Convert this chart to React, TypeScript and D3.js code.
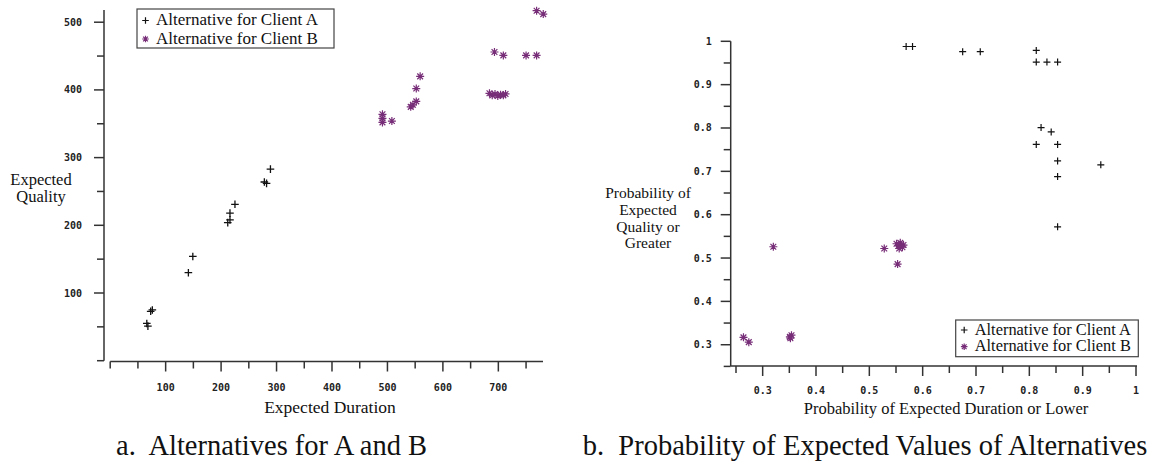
import React from 'react';
import * as d3 from 'd3';

// left chart: expected duration vs expected quality
const aDuration = [66, 68, 73, 76, 141, 149, 212, 216, 216, 225, 278, 282, 289];
const aQuality = [55, 51, 73, 75, 130, 154, 204, 208, 218, 231, 264, 262, 283];
const bDuration = [491, 491, 491, 508, 542, 546, 552, 552, 559, 684, 689, 694, 699, 704, 709, 713, 693, 709, 750, 769, 769, 781];
const bQuality = [364, 358, 352, 354, 375, 378, 383, 402, 420, 395, 392, 394, 391, 393, 392, 394, 456, 451, 451, 451, 517, 512];

// right chart: probability of expected duration vs quality
const aProbDur = [0.569, 0.581, 0.675, 0.708, 0.813, 0.813, 0.833, 0.853, 0.822, 0.841, 0.813, 0.853, 0.853, 0.853, 0.934, 0.853];
const aProbQual = [0.988, 0.988, 0.976, 0.976, 0.979, 0.952, 0.952, 0.952, 0.801, 0.791, 0.762, 0.762, 0.724, 0.688, 0.715, 0.572];
const bProbDur = [0.32, 0.264, 0.274, 0.351, 0.354, 0.352, 0.528, 0.551, 0.555, 0.558, 0.562, 0.556, 0.564, 0.553];
const bProbQual = [0.526, 0.317, 0.306, 0.318, 0.322, 0.315, 0.522, 0.533, 0.528, 0.535, 0.525, 0.522, 0.53, 0.486];

const leftXMajor = [100, 200, 300, 400, 500, 600, 700];
const leftXMinor = [0, 50, 150, 250, 350, 450, 550, 650, 750];
const leftYMajor = [100, 200, 300, 400, 500];
const leftYMinor = [0, 50, 150, 250, 350, 450];
const rightMajor = [0.3, 0.4, 0.5, 0.6, 0.7, 0.8, 0.9, 1];
const rightMinor = [0.25, 0.35, 0.45, 0.55, 0.65, 0.75, 0.85, 0.95];
const rightLabels = ['0.3', '0.4', '0.5', '0.6', '0.7', '0.8', '0.9', '1'];

const legendLabels = ['Alternative for Client A', 'Alternative for Client B'];

const PURPLE = '#772d77';
const AXIS = '#333';
const serif = '"Liberation Serif", "Times New Roman", serif';
const mono = '"DejaVu Sans Mono", monospace';

const plus = (r: number) => `M${-r},0H${r}M0,${-r}V${r}`;
const star = (r: number) => {
  const k = r * 0.72;
  return `M${-r},0H${r}M0,${-r}V${r}M${-k},${-k}L${k},${k}M${-k},${k}L${k},${-k}`;
};

function Legend({ x, y, w, h, size, first, gap }: any) {
  return (
    <g transform={`translate(${x},${y})`}>
      <rect x={0} y={0} width={w} height={h} fill="white" stroke="#444" strokeWidth={1.2} />
      {legendLabels.map((l, i) => (
        <g key={l} transform={`translate(0,${first + i * gap})`}>
          <path transform="translate(8.5,-4.5)" d={i === 0 ? plus(3.3) : star(3.3)}
            stroke={i === 0 ? '#111' : PURPLE} strokeWidth={1.2} fill="none" />
          <text x={19} y={0} fontFamily={serif} fontSize={size} fill="#111">{l}</text>
        </g>
      ))}
    </g>
  );
}

function Multi({ x, y, lines, dy, size }: any) {
  return (
    <text x={x} y={y} fontFamily={serif} fontSize={size} fill="#111" textAnchor="middle">
      {lines.map((l: string, i: number) => <tspan key={l} x={x} dy={i === 0 ? 0 : dy}>{l}</tspan>)}
    </text>
  );
}

export default function App() {
  const lx = d3.scaleLinear().domain([0, 780]).range([110.2, 542.7]);
  const ly = d3.scaleLinear().domain([0, 517]).range([360.7, 10.7]);
  const rx = d3.scaleLinear().domain([0.25, 1]).range([736, 1136]);
  const ry = d3.scaleLinear().domain([0.25, 1]).range([366.4, 41.3]);

  const lAxisX = 104;
  const lAxisY = 361.5;
  const rAxisX = 730.7;
  const rAxisY = 366;

  return (
    <svg width={1157} height={461} style={{ position: 'absolute', left: 0, top: 0, background: 'white' }}>
      {/* ---- left chart ---- */}
      <g stroke={AXIS} strokeWidth={1.5} fill="none">
        <line x1={lAxisX} x2={lAxisX} y1={ly(0)} y2={10} />
        {leftYMajor.map(v => <line key={'a' + v} x1={lAxisX - 10} x2={lAxisX} y1={ly(v)} y2={ly(v)} />)}
        {leftYMinor.map(v => <line key={'b' + v} x1={lAxisX - 7} x2={lAxisX} y1={ly(v)} y2={ly(v)} />)}
        <line x1={lx(0)} x2={543} y1={lAxisY} y2={lAxisY} />
        {leftXMajor.map(v => <line key={'c' + v} x1={lx(v)} x2={lx(v)} y1={lAxisY} y2={lAxisY + 10} />)}
        {leftXMinor.map(v => <line key={'d' + v} x1={lx(v)} x2={lx(v)} y1={lAxisY} y2={lAxisY + 7} />)}
      </g>
      <g fontFamily={mono} fontSize={10} fontWeight="bold" fill="#222">
        {leftYMajor.map(v => <text key={v} x={82} y={ly(v) + 3.5} textAnchor="end">{v}</text>)}
        {leftXMajor.map(v => <text key={v} x={lx(v)} y={391} textAnchor="middle">{v}</text>)}
      </g>
      <text x={330} y={413} fontFamily={serif} fontSize={17.5} fill="#111" textAnchor="middle">Expected Duration</text>
      <Multi x={41} y={184.5} dy={17.5} size={16.5} lines={['Expected', 'Quality']} />
      <g stroke={PURPLE} strokeWidth={1.2} fill="none">
        {bDuration.map((d, i) => <path key={i} transform={`translate(${lx(d)},${ly(bQuality[i])})`} d={star(4)} />)}
      </g>
      <g stroke="#111" strokeWidth={1.3} fill="none">
        {aDuration.map((d, i) => <path key={i} transform={`translate(${lx(d)},${ly(aQuality[i])})`} d={plus(3.8)} />)}
      </g>
      <Legend x={137} y={9} w={197} h={39} size={17} first={16} gap={18.5} />

      {/* ---- right chart ---- */}
      <g stroke={AXIS} strokeWidth={1.5} fill="none">
        <line x1={rAxisX} x2={rAxisX} y1={rAxisY} y2={ry(1)} />
        {rightMajor.map(v => <line key={'a' + v} x1={rAxisX - 10} x2={rAxisX} y1={ry(v)} y2={ry(v)} />)}
        {rightMinor.map(v => <line key={'b' + v} x1={rAxisX - 7} x2={rAxisX} y1={ry(v)} y2={ry(v)} />)}
        <line x1={rAxisX} x2={1137} y1={rAxisY} y2={rAxisY} />
        {rightMajor.map(v => <line key={'c' + v} x1={rx(v)} x2={rx(v)} y1={rAxisY} y2={rAxisY + 10} />)}
        {rightMinor.map(v => <line key={'d' + v} x1={rx(v)} x2={rx(v)} y1={rAxisY} y2={rAxisY + 7} />)}
      </g>
      <g fontFamily={mono} fontSize={10} fontWeight="bold" fill="#222">
        {rightMajor.map((v, i) => <text key={'y' + v} x={711.7} y={ry(v) + 3.5} textAnchor="end">{rightLabels[i]}</text>)}
        {rightMajor.map((v, i) => <text key={'x' + v} x={rx(v)} y={394} textAnchor="middle">{rightLabels[i]}</text>)}
      </g>
      <text x={946} y={414} fontFamily={serif} fontSize={16.5} fill="#111" textAnchor="middle">Probability of Expected Duration or Lower</text>
      <Multi x={648} y={198} dy={16.8} size={15.5} lines={['Probability of', 'Expected', 'Quality or', 'Greater']} />
      <g stroke={PURPLE} strokeWidth={1.2} fill="none">
        {bProbDur.map((d, i) => <path key={i} transform={`translate(${rx(d)},${ry(bProbQual[i])})`} d={star(4)} />)}
      </g>
      <g stroke="#111" strokeWidth={1.2} fill="none">
        {aProbDur.map((d, i) => <path key={i} transform={`translate(${rx(d)},${ry(aProbQual[i])})`} d={plus(3.5)} />)}
      </g>
      <Legend x={955.7} y={320} w={182.6} h={36.7} size={16.4} first={14.5} gap={16.7} />

      {/* ---- captions ---- */}
      <g fontFamily={serif} fontSize={28.5} fill="#111">
        <text x={116} y={455} style={{ whiteSpace: 'pre' }}>{'a.  Alternatives for A and B'}</text>
        <text x={582.7} y={455} style={{ whiteSpace: 'pre' }}>{'b.  Probability of Expected Values of Alternatives'}</text>
      </g>
    </svg>
  );
}
